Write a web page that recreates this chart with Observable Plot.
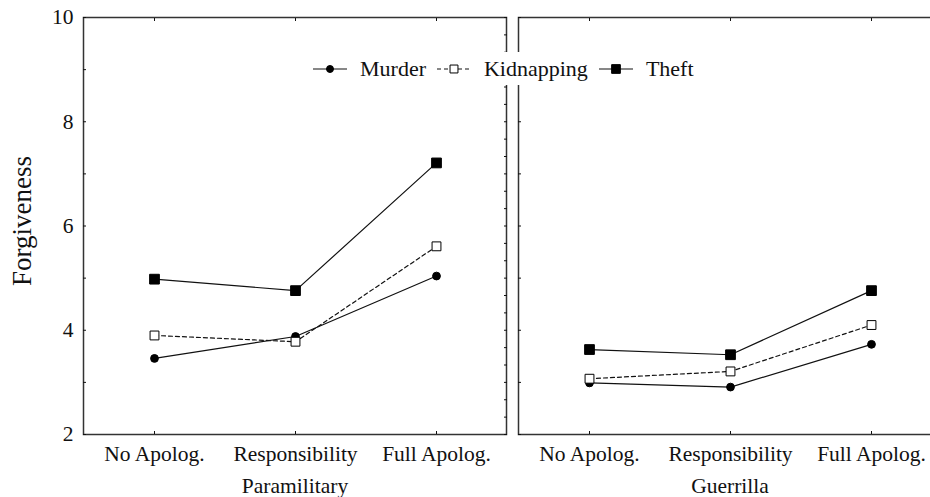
<!DOCTYPE html>
<html><head><meta charset="utf-8">
<script src="https://cdn.jsdelivr.net/npm/d3@7"></script>
<script src="https://cdn.jsdelivr.net/npm/@observablehq/plot@0.6"></script>
<style>
html,body{margin:0;padding:0;background:#fff;overflow:hidden;}
#wrap{position:relative;width:930px;height:497px;overflow:hidden;}
#chart svg{max-width:none !important;}
#legend{position:absolute;left:305px;top:52px;height:33px;width:402px;background:#fff;display:flex;align-items:center;
  font-family:"Liberation Serif",serif;font-size:22px;color:#111;box-sizing:border-box;padding-left:8px;}
#legend svg{margin-right:13px;}
#legend span{margin-right:11px;}
</style></head><body>
<div id="wrap"><div id="chart"></div><div id="legend"></div></div>
<script>
const categories = ["No Apolog.", "Responsibility", "Full Apolog."];
const groups = ["Paramilitary", "Guerrilla"];
const crimes = ["Murder", "Kidnapping", "Theft"];
const paramilitaryMurder = [3.46, 3.88, 5.04];
const paramilitaryKidnapping = [3.90, 3.78, 5.61];
const paramilitaryTheft = [4.98, 4.76, 7.21];
const guerrillaMurder = [2.99, 2.91, 3.73];
const guerrillaKidnapping = [3.07, 3.21, 4.10];
const guerrillaTheft = [3.63, 3.53, 4.76];
const yTicks = [2, 4, 6, 8, 10];
const yLabel = "Forgiveness";

const seriesValues = {
  Paramilitary: {Murder: paramilitaryMurder, Kidnapping: paramilitaryKidnapping, Theft: paramilitaryTheft},
  Guerrilla: {Murder: guerrillaMurder, Kidnapping: guerrillaKidnapping, Theft: guerrillaTheft}
};
const data = [];
for (const g of groups) for (const c of crimes) categories.forEach((cat, i) =>
  data.push({group: g, crime: c, category: cat, value: seriesValues[g][c][i]}));

const style = {
  Murder: {dash: null, symbol: "circle", fill: "#000", r: 3.9},
  Kidnapping: {dash: "4,3", symbol: "square", fill: "#fff", r: 5.0},
  Theft: {dash: null, symbol: "square", fill: "#000", r: 5.5}
};
const ink = "#111";
const minorInt = d3.range(2, 10.001, 1);
const minorThird = d3.range(2, 10.001, 1 / 3);
const blank = () => "";

const marks = [Plot.frame({stroke: "#333", strokeWidth: 1.5})];
for (const c of crimes) {
  marks.push(Plot.line(data.filter(d => d.crime === c), {
    x: "category", y: "value", fx: "group", stroke: ink, strokeWidth: 1.2,
    strokeDasharray: style[c].dash
  }));
}
for (const c of crimes) {
  marks.push(Plot.dot(data.filter(d => d.crime === c), {
    x: "category", y: "value", fx: "group", symbol: style[c].symbol, r: style[c].r,
    fill: style[c].fill, stroke: "#000", strokeWidth: 1
  }));
}
marks.push(
  Plot.axisY({ticks: yTicks, tickSize: 0, tickPadding: 10, label: null}),
  Plot.axisY({ticks: minorInt, tickSize: -3, tickFormat: blank, label: null, facetAnchor: null}),
  Plot.axisY({anchor: "right", ticks: minorThird, tickSize: -3, tickFormat: blank, label: null, facetAnchor: null}),
  Plot.axisX({anchor: "bottom", tickSize: 0, tickPadding: 11, label: null}),
  Plot.axisX({anchor: "bottom", tickSize: -3, tickFormat: blank, label: null}),
  Plot.axisX({anchor: "top", tickSize: -3, tickFormat: blank, label: null}),
  Plot.axisFx({anchor: "bottom", tickSize: 0, tickPadding: 43, label: null}),
  Plot.text([yLabel], {fx: () => groups[0], text: d => d, frameAnchor: "left", textAnchor: "middle",
    dx: -61, dy: -5, rotate: -90, fontSize: 27})
);

const chart = Plot.plot({
  width: 941, height: 497,
  marginLeft: 83, marginRight: 0, marginTop: 17, marginBottom: 63,
  style: {fontFamily: "Liberation Serif, serif", fontSize: "21.5px", background: "#fff", color: "#111", maxWidth: "none"},
  fx: {domain: groups, paddingInner: 0.0276, paddingOuter: 0, label: null},
  x: {domain: categories, type: "point", padding: 0.5, label: null},
  y: {domain: [2, 10], label: null},
  marks
});
chart.style.maxWidth = "none";
document.getElementById("chart").appendChild(chart);

// legend
const legend = document.getElementById("legend");
for (const c of crimes) {
  const s = style[c];
  const svg = d3.create("svg").attr("width", 34).attr("height", 20);
  svg.append("line").attr("x1", 0).attr("x2", 34).attr("y1", 10).attr("y2", 10)
    .attr("stroke", ink).attr("stroke-width", 1.1).attr("stroke-dasharray", s.dash);
  svg.append("path").attr("transform", "translate(17,10)")
    .attr("d", d3.symbol(s.symbol === "circle" ? d3.symbolCircle : d3.symbolSquare, Math.PI * s.r * s.r * 0.8)())
    .attr("fill", s.fill).attr("stroke", "#000");
  legend.appendChild(svg.node());
  const sp = document.createElement("span");
  sp.textContent = c;
  legend.appendChild(sp);
}
</script>
</body></html>
